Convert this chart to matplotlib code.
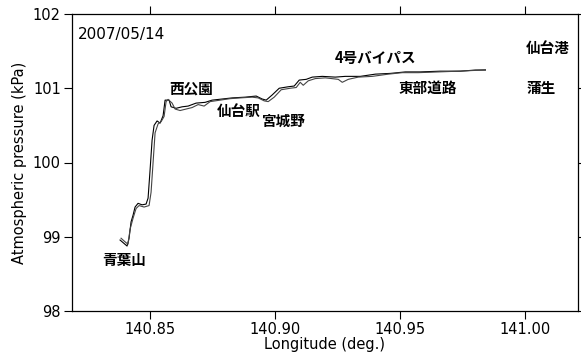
import numpy as np
import matplotlib
matplotlib.use("Agg")
import matplotlib.pyplot as plt

plt.rcParams['font.family'] = ['DejaVu Sans', 'Noto Sans CJK JP']

# outbound run: longitude (deg) and pressure (kPa)
lon_a = [140.838, 140.8408, 140.8416, 140.8424, 140.8432, 140.844, 140.8452, 140.8468,
         140.8484, 140.8492, 140.85, 140.8508, 140.8516, 140.8528, 140.854, 140.8552,
         140.856, 140.8576, 140.8584, 140.8604, 140.8628, 140.8652, 140.8684, 140.872,
         140.8748, 140.8788, 140.8828, 140.888, 140.8924, 140.8948, 140.8964, 140.8988,
         140.9016, 140.9052, 140.9076, 140.9096, 140.9124, 140.9148, 140.9188, 140.924,
         140.928, 140.934, 140.94, 140.946, 140.952, 140.958, 140.966, 140.974, 140.98,
         140.984]
p_a = [98.956, 98.875, 98.98, 99.20, 99.29, 99.40, 99.45, 99.43,
       99.44, 99.52, 99.90, 100.30, 100.50, 100.56, 100.53, 100.63,
       100.84, 100.84, 100.75, 100.73, 100.75, 100.76, 100.80, 100.81,
       100.84, 100.855, 100.87, 100.88, 100.895, 100.855, 100.84, 100.91,
       101.00, 101.02, 101.03, 101.11, 101.12, 101.15, 101.16, 101.15,
       101.16, 101.16, 101.19, 101.20, 101.22, 101.22, 101.23, 101.23, 101.245,
       101.245]

# return run
lon_b = [140.8384, 140.8404, 140.8412, 140.842, 140.8432, 140.8444, 140.8456, 140.8476,
         140.8496, 140.8504, 140.8512, 140.852, 140.8532, 140.8544, 140.8556, 140.8564,
         140.8572, 140.8588, 140.86, 140.862, 140.8644, 140.8668, 140.8692, 140.8716,
         140.874, 140.878, 140.882, 140.886, 140.8908, 140.8932, 140.8956, 140.8972,
         140.8996, 140.9024, 140.906, 140.9084, 140.91, 140.9112, 140.9132, 140.916,
         140.92, 140.9252, 140.9268, 140.9292, 140.9332, 140.9388, 140.9452, 140.9508,
         140.9572, 140.9652, 140.9732, 140.9796, 140.984]
p_b = [98.98, 98.92, 98.90, 99.10, 99.25, 99.38, 99.42, 99.40,
       99.42, 99.60, 100.00, 100.40, 100.52, 100.55, 100.62, 100.82,
       100.85, 100.80, 100.72, 100.70, 100.72, 100.74, 100.78, 100.76,
       100.82, 100.84, 100.86, 100.87, 100.88, 100.87, 100.83, 100.82,
       100.88, 100.98, 101.00, 101.01, 101.08, 101.04, 101.10, 101.13,
       101.14, 101.12, 101.08, 101.12, 101.15, 101.16, 101.19, 101.21,
       101.21, 101.22, 101.23, 101.24, 101.25]

# place names along the route
places = ["青葉山", "西公園", "仙台駅", "宮城野", "4号バイパス", "東部道路", "仙台港", "蒲生"]
place_lon = [140.8396, 140.8664, 140.8856, 140.9036, 140.9400, 140.9608, 141.0088, 141.0064]
place_p = [98.69, 101.00, 100.69, 100.56, 101.41, 101.00, 101.54, 101.00]

xticks = [140.85, 140.90, 140.95, 141.00]
yticks = [98, 99, 100, 101, 102]

fig = plt.figure(figsize=(5.81, 3.63), dpi=100)
ax = fig.add_axes([72 / 581, 52 / 363, 506 / 581, 297 / 363])

ax.plot(lon_a, p_a, color="black", lw=0.8)
ax.plot(lon_b, p_b, color="#444444", lw=0.8)

for name, x, y in zip(places, place_lon, place_p):
    ax.text(x, y, name, ha="center", va="center", fontsize=10.5, fontweight="bold",
            family=["Noto Sans CJK JP", "DejaVu Sans"])

ax.text(0.012, 0.93, "2007/05/14", transform=ax.transAxes, fontsize=11,
        ha="left", va="center")

ax.set_xlim(140.8188, 141.021)
ax.set_ylim(98, 102)
ax.set_xticks(xticks)
ax.set_xticklabels(["140.85", "140.90", "140.95", "141.00"])
ax.set_yticks(yticks)
ax.tick_params(direction="out", length=6, width=0.8, labelsize=10.5, pad=2,
               top=True, right=True, labeltop=False, labelright=False)
for s in ax.spines.values():
    s.set_linewidth(0.9)

ax.set_xlabel("Longitude (deg.)", fontsize=10.5, labelpad=0)
ax.set_ylabel("Atmospheric pressure (kPa)", fontsize=10.5, labelpad=4)

fig.savefig("out.png", dpi=100)
